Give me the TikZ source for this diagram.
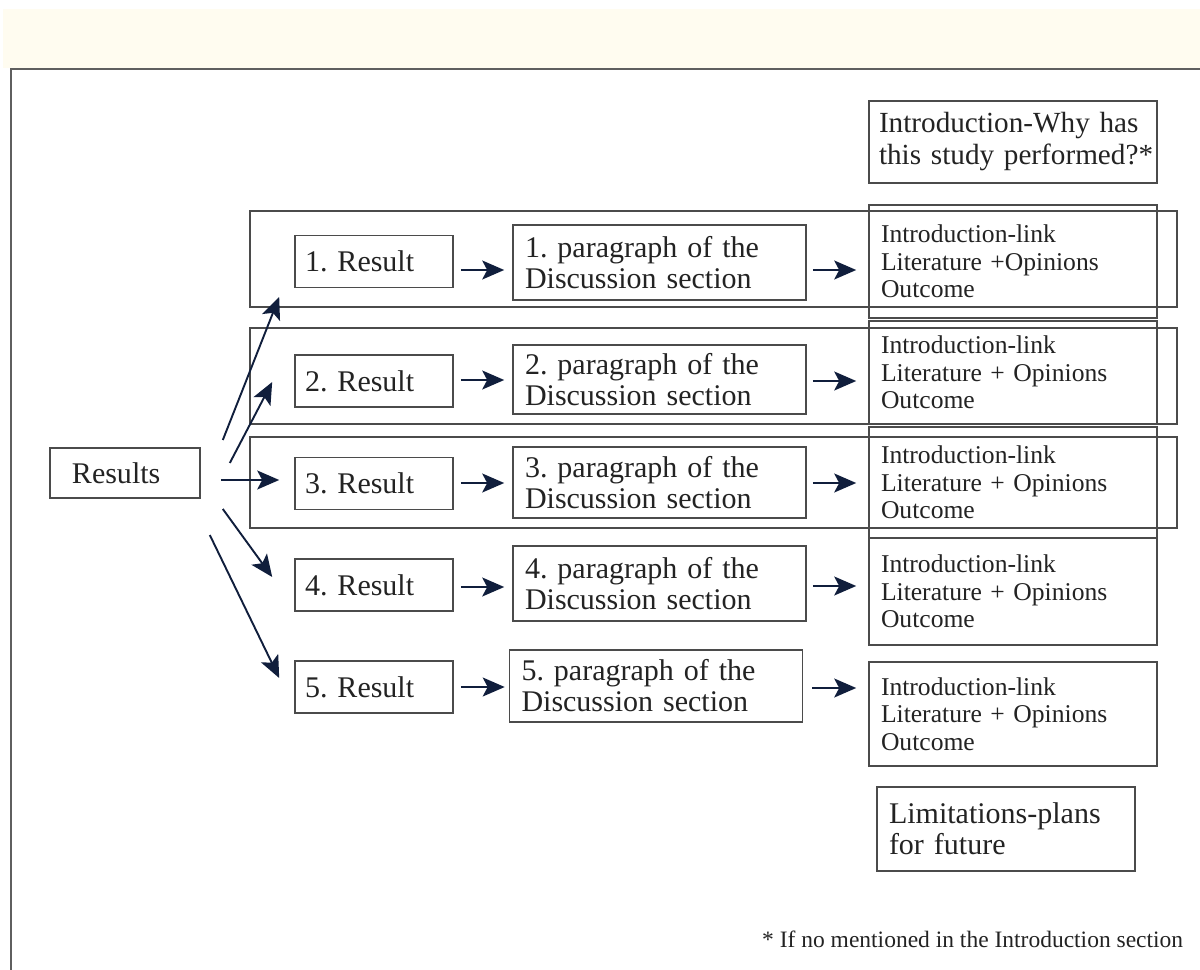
\documentclass[tikz,border=0pt]{standalone}
\usepackage{fontspec}
\setmainfont{Liberation Serif}
\usetikzlibrary{arrows.meta,calc}
\frenchspacing
\definecolor{cream}{RGB}{255,252,240}
\definecolor{navy}{RGB}{16,30,60}
\definecolor{boxgray}{RGB}{75,75,75}
\definecolor{framegray}{RGB}{95,95,95}
\definecolor{txt}{RGB}{35,35,35}
\newcommand\mainsize{\fontsize{30bp}{31bp}\selectfont\frenchspacing}
\newcommand\topsize{\fontsize{29.2bp}{32bp}\selectfont\frenchspacing}
\newcommand\smallsize{\fontsize{25.6bp}{27.5bp}\selectfont\frenchspacing}
\newcommand\footsize{\fontsize{23.5bp}{26bp}\selectfont\frenchspacing}
\tikzset{
  box/.style={draw=boxgray, line width=1.6bp, inner ysep=0pt, align=left, text=txt, font=\mainsize},
  resultsbox/.style={box, inner xsep=22bp, text width=106bp, minimum height=50bp},
  resbox/.style={box, inner xsep=10bp, text width=138bp, minimum height=52bp},
  parbox/.style={box, inner xsep=12bp, text width=269bp},
  outbox/.style={box, font=\smallsize, inner xsep=12bp, text width=264bp},
  topbox/.style={box, font=\topsize, inner xsep=10bp, text width=268bp, minimum height=82bp},
  limbox/.style={box, inner xsep=12bp, text width=234bp, minimum height=84bp},
  groupframe/.style={draw=boxgray, line width=1.6bp},
  footnote/.style={text=txt, font=\footsize, inner sep=0pt},
  arr/.style={draw=navy, line width=1.9bp, -{Stealth[length=22bp, width=19bp, inset=5bp]}}
}
\begin{document}
\begin{tikzpicture}[x=1bp,y=-1bp]
\useasboundingbox (0,0) rectangle (1200,970);
\fill[white] (0,0) rectangle (1200,970);
\fill[cream] (3,9) rectangle (1200,68);
\draw[draw=framegray, line width=2bp] (1200,69) -- (11,69) -- (11,970);

% group frames
\draw[groupframe] (250,211) rectangle (1177,307);
\draw[groupframe] (250,328) rectangle (1177,424);
\draw[groupframe] (250,437) rectangle (1177,528);

% nodes
\node[resultsbox] (res) at (125,473) {Results};
\node[resbox] (r1) at (374,261.5) {1. Result};
\node[resbox] (r2) at (374,381) {2. Result};
\node[resbox] (r3) at (374,483.5) {3. Result};
\node[resbox] (r4) at (374,585) {4. Result};
\node[resbox] (r5) at (374,687) {5. Result};

\node[parbox, minimum height=75bp] (p1) at (659.5,262.5) {1. paragraph of the\\Discussion section};
\node[parbox, minimum height=69bp] (p2) at (659.5,379.5) {2. paragraph of the\\Discussion section};
\node[parbox, minimum height=71bp] (p3) at (659.5,482.5) {3. paragraph of the\\Discussion section};
\node[parbox, minimum height=75bp] (p4) at (659.5,583.5) {4. paragraph of the\\Discussion section};
\node[parbox, minimum height=72bp] (p5) at (656,686) {5. paragraph of the\\Discussion section};

\node[outbox, minimum height=113bp] (q1) at (1013,261.5) {Introduction-link\\Literature +Opinions\\Outcome};
\node[outbox, minimum height=103bp] (q2) at (1013,372.5) {Introduction-link\\Literature + Opinions\\Outcome};
\node[outbox, minimum height=111bp] (q3) at (1013,482.5) {Introduction-link\\Literature + Opinions\\Outcome};
\node[outbox, minimum height=107bp] (q4) at (1013,591.5) {Introduction-link\\Literature + Opinions\\Outcome};
\node[outbox, minimum height=104bp] (q5) at (1013,714) {Introduction-link\\Literature + Opinions\\Outcome};

\node[topbox] (intro) at (1013,142) {\mbox{Introduction-Why has}\\\mbox{this study performed?*}};
\node[limbox] (lim) at (1006,829) {Limitations-plans\\for future};
\node[footnote, anchor=base west] (fn) at (762,947) {* If no mentioned in the Introduction section};

% fan arrows from Results
\draw[arr] ($(res.east)+(22,-33)$) -- ($(r1.west)+(-15,35.5)$);
\draw[arr] ($(res.east)+(29,-10)$) -- ($(r2.west)+(-22,1)$);
\draw[arr] ($(res.east)+(20,7)$) -- ($(r3.west)+(-15,-3.5)$);
\draw[arr] ($(res.east)+(22,36)$) -- ($(r4.west)+(-22,-8)$);
\draw[arr] ($(res.east)+(9,62)$) -- ($(r5.west)+(-15,-9)$);

% result -> paragraph
\draw[arr] ($(r1.east)+(7,8.5)$) -- ($(r1.east -| p1.west)+(-8,8.5)$);
\draw[arr] ($(r2.east)+(7,-1)$) -- ($(r2.east -| p2.west)+(-8,-1)$);
\draw[arr] ($(r3.east)+(7,-0.5)$) -- ($(r3.east -| p3.west)+(-8,-0.5)$);
\draw[arr] ($(r4.east)+(7,2)$) -- ($(r4.east -| p4.west)+(-8,2)$);
\draw[arr] ($(r5.east)+(7,0)$) -- ($(r5.east -| p5.west)+(-4,0)$);

% paragraph -> outcome
\draw[arr] ($(p1.east)+(6,7.5)$) -- ($(p1.east -| q1.west)+(-12,7.5)$);
\draw[arr] ($(p2.east)+(6,1.5)$) -- ($(p2.east -| q2.west)+(-12,1.5)$);
\draw[arr] ($(p3.east)+(6,0.5)$) -- ($(p3.east -| q3.west)+(-12,0.5)$);
\draw[arr] ($(p4.east)+(6,2.5)$) -- ($(p4.east -| q4.west)+(-12,2.5)$);
\draw[arr] ($(p5.east)+(9,2)$) -- ($(p5.east -| q5.west)+(-12,2)$);
\end{tikzpicture}
\end{document}
